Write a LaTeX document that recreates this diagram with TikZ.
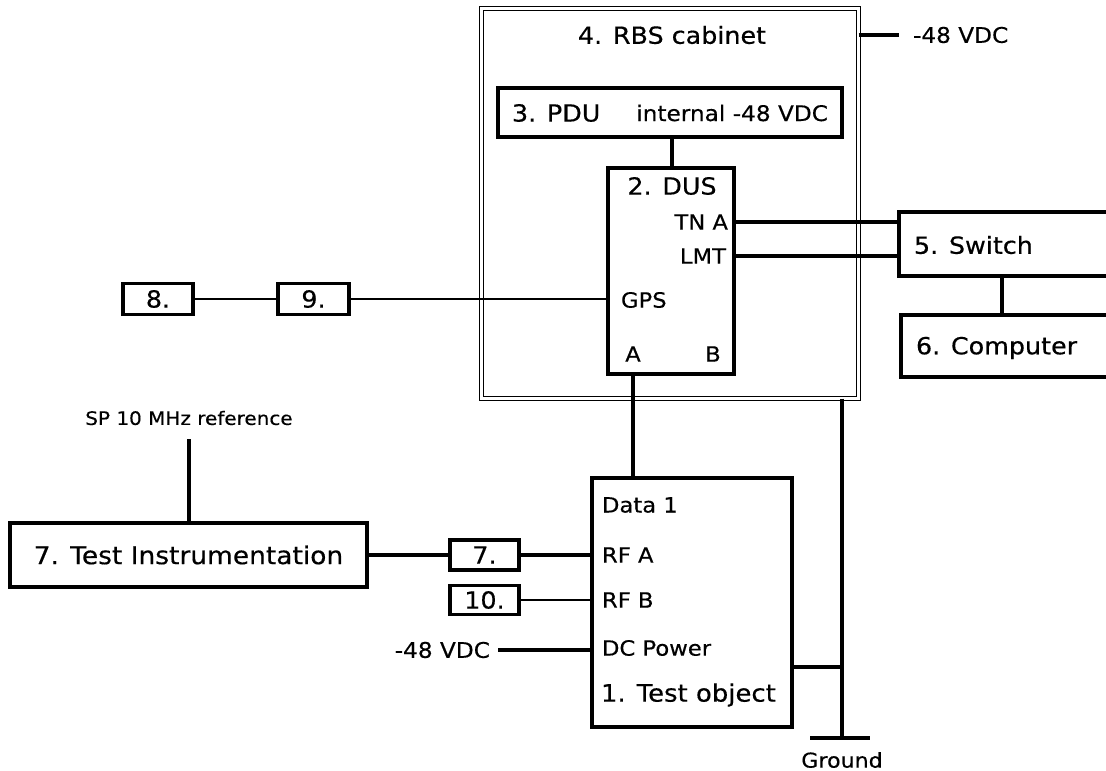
\documentclass[tikz,border=0pt]{standalone}
\usepackage{fontspec}
\setmainfont[FakeStretch=1.08,FakeBold=0.4]{DejaVu Sans}
\begin{document}
\begin{tikzpicture}[x=1pt,y=-1pt,
  box/.style={draw, line width=3.4pt, rectangle, inner sep=0pt, outer sep=0pt},
  wire/.style={line width=3.1pt},
  thinwire/.style={line width=2.9pt},
  txt/.style={inner sep=0pt, outer sep=0pt},
  big/.style={font=\fontsize{23.5}{28}\selectfont},
  mid/.style={font=\fontsize{21}{25}\selectfont},
  sml/.style={font=\fontsize{18.5}{22}\selectfont}]
\clip (0,0) rectangle (1106,771);
\fill[white] (0,0) rectangle (1106,771);

% RBS cabinet
\node[draw, line width=1.7pt, double, double distance=2.4pt, minimum width=377pt, minimum height=390pt, inner sep=0pt, outer sep=0pt] (cab) at (670,203.5) {};
\node[txt, big] (cabt) at (672,35) {4. RBS cabinet};
\node[txt, font=\fontsize{21.5}{25}\selectfont, anchor=west] (vdct) at (913,35) {-48 VDC};
\draw[wire] (cab.east |- vdct.west) -- ([xshift=-14pt]vdct.west);

% PDU
\node[box, minimum width=344pt, minimum height=49pt] (pdu) at (670,112.5) {};
\node[txt, big, anchor=west] (pdut) at (512,113) {3. PDU};
\node[txt, font=\fontsize{21.5}{25}\selectfont, anchor=east] (pduint) at (828,113) {internal -48 VDC};

% DUS
\node[box, minimum width=126pt, minimum height=206pt] (dus) at (671,271) {};
\node[txt, big] (dust) at (672,186) {2. DUS};
\node[txt, mid, anchor=east] (tna) at (728,222) {TN A};
\node[txt, mid, anchor=east] (lmt) at (726,256) {LMT};
\node[txt, mid, anchor=west] (gps) at (621,300) {GPS};
\node[txt, mid] (porta) at (633,354) {A};
\node[txt, mid] (portb) at (713,354) {B};
\draw[wire] (pdu.south -| 672,0) -- (dus.north -| 672,0);

% Switch and Computer
\node[box, minimum width=221pt, minimum height=64pt] (sw) at (1009.5,244) {};
\node[txt, big, anchor=west] (swt) at (914,245) {5. Switch};
\node[box, minimum width=219pt, minimum height=62pt] (comp) at (1010.5,346) {};
\node[txt, big, anchor=west] (compt) at (916,348) {6. Computer};
\coordinate (swc) at (1002,0);
\draw[wire] (sw.south -| swc) -- (comp.north -| swc);
\draw[wire] (dus.east |- tna) -- (sw.west |- tna);
\draw[wire] (dus.east |- lmt) -- (sw.west |- lmt);

% GPS chain
\node[box, minimum width=70pt, minimum height=31pt] (b8) at (158,299) {};
\node[txt, big] (b8t) at (158,299) {8.};
\node[box, minimum width=71pt, minimum height=31pt] (b9) at (313.5,299) {};
\node[txt, big] (b9t) at (313.5,299) {9.};
\draw[thinwire] (b8.east) -- (b9.west);
\draw[thinwire] (b9.east) -- (dus.west |- b9.east);

% Test object
\node[box, minimum width=200pt, minimum height=249pt] (tobj) at (692,602.5) {};
\node[txt, mid, anchor=west] (data1) at (602,505) {Data 1};
\node[txt, mid, anchor=west] (rfa) at (602,555) {RF A};
\node[txt, mid, anchor=west] (rfb) at (602,600) {RF B};
\node[txt, mid, anchor=west] (dcp) at (602,648) {DC Power};
\node[txt, font=\fontsize{24}{28}\selectfont, anchor=west] (tobjt) at (601,695) {1. Test object};
\draw[wire] (dus.south -| porta) -- (tobj.north -| porta);

% Attenuators
\node[box, minimum width=69pt, minimum height=30pt] (b7) at (484.5,555) {};
\node[txt, big] (b7t) at (484.5,555) {7.};
\node[box, minimum width=69pt, minimum height=29pt] (b10) at (484.5,600) {};
\node[txt, big] (b10t) at (484.5,600) {10.};
\draw[wire] (b7.east) -- (tobj.west |- b7.east);
\draw[thinwire] (b10.east) -- (tobj.west |- b10.east);

% Test instrumentation
\node[box, minimum width=357pt, minimum height=64pt] (ti) at (188.5,555) {};
\node[txt, font=\fontsize{24.5}{28}\selectfont] (tit) at (188.5,555) {7. Test Instrumentation};
\draw[wire] (ti.east) -- (b7.west);
\node[txt, sml] (sp) at (189,418) {SP 10 MHz reference};
\draw[wire] ([yshift=-14pt]sp.south) -- (ti.north -| sp.south);

% DC power
\node[txt, font=\fontsize{21.5}{25}\selectfont, anchor=east] (vdcb) at (490,650) {-48 VDC};
\draw[wire] ([xshift=8pt]vdcb.east) -- (tobj.west |- vdcb.east);

% Ground
\coordinate (gnd) at (842,738);
\coordinate (tj) at (842,667);
\coordinate (gl) at (810,738);
\coordinate (gr) at (870,738);
\draw[wire] (cab.south -| gnd) -- (gnd);
\draw[wire] (tobj.east |- tj) -- (tj);
\draw[wire] (gl) -- (gr);
\node[txt, font=\fontsize{20.5}{24}\selectfont] (gndt) at (842,760) {Ground};
\end{tikzpicture}
\end{document}
